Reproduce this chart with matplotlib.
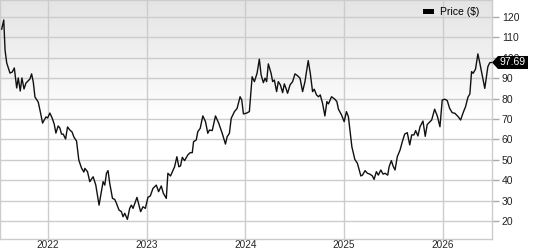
import matplotlib
matplotlib.use("Agg")
import matplotlib.pyplot as plt
import numpy as np
from matplotlib.patches import Patch, Polygon

# weekly-ish closing prices, x as decimal year
years = [
    2021.532, 2021.553, 2021.566, 2021.583, 2021.616, 2021.639, 2021.660, 2021.684,
    2021.700, 2021.720, 2021.737, 2021.758, 2021.778, 2021.818, 2021.835, 2021.852,
    2021.869, 2021.902, 2021.926, 2021.946, 2021.980, 2021.997, 2022.020, 2022.043,
    2022.064, 2022.081, 2022.104, 2022.121, 2022.138, 2022.155, 2022.179, 2022.199,
    2022.222, 2022.245, 2022.263, 2022.290, 2022.313, 2022.340, 2022.364, 2022.374,
    2022.401, 2022.424, 2022.458, 2022.485, 2022.518, 2022.542, 2022.559, 2022.576,
    2022.593, 2022.609, 2022.626, 2022.654, 2022.677, 2022.694, 2022.720, 2022.744,
    2022.761, 2022.778, 2022.805, 2022.828, 2022.845, 2022.862, 2022.902, 2022.939,
    2022.963, 2022.987, 2023.013, 2023.037, 2023.064, 2023.098, 2023.121, 2023.148,
    2023.169, 2023.199, 2023.215, 2023.242, 2023.276, 2023.283, 2023.306, 2023.326,
    2023.343, 2023.361, 2023.384, 2023.417, 2023.441, 2023.462, 2023.475, 2023.502,
    2023.518, 2023.542, 2023.569, 2023.596, 2023.619, 2023.636, 2023.664, 2023.697,
    2023.730, 2023.765, 2023.798, 2023.815, 2023.838, 2023.856, 2023.889, 2023.916,
    2023.946, 2023.963, 2023.980, 2024.007, 2024.040, 2024.068, 2024.091, 2024.118,
    2024.141, 2024.159, 2024.182, 2024.199, 2024.215, 2024.232, 2024.260, 2024.276,
    2024.293, 2024.316, 2024.333, 2024.354, 2024.377, 2024.394, 2024.411, 2024.427,
    2024.452, 2024.478, 2024.502, 2024.528, 2024.553, 2024.579, 2024.603, 2024.636,
    2024.657, 2024.680, 2024.697, 2024.720, 2024.740, 2024.758, 2024.781, 2024.805,
    2024.825, 2024.841, 2024.872, 2024.906, 2024.926, 2024.942, 2024.973, 2025.000,
    2025.023, 2025.043, 2025.078, 2025.108, 2025.134, 2025.169, 2025.185, 2025.212,
    2025.235, 2025.260, 2025.286, 2025.303, 2025.326, 2025.346, 2025.371, 2025.394,
    2025.414, 2025.441, 2025.455, 2025.478, 2025.495, 2025.515, 2025.538, 2025.566,
    2025.589, 2025.613, 2025.639, 2025.664, 2025.684, 2025.707, 2025.724, 2025.747,
    2025.768, 2025.798, 2025.821, 2025.841, 2025.886, 2025.916, 2025.943, 2025.970,
    2025.993, 2026.020, 2026.044, 2026.068, 2026.094, 2026.121, 2026.155, 2026.179,
    2026.205, 2026.229, 2026.253, 2026.273, 2026.290, 2026.306, 2026.330, 2026.354,
    2026.374, 2026.397, 2026.424, 2026.455, 2026.475, 2026.492,
]
prices = [
    114.0, 118.5, 103.8, 97.5, 92.5, 93.0, 95.0, 85.2,
    90.1, 83.7, 90.1, 84.7, 87.6, 89.6, 92.1, 88.1,
    80.8, 78.3, 72.9, 68.0, 71.0, 70.5, 72.9, 70.5,
    67.5, 63.1, 66.6, 65.6, 62.6, 62.6, 60.2, 66.1,
    64.6, 63.6, 61.2, 59.2, 49.9, 46.0, 44.0, 45.8,
    44.2, 39.3, 41.7, 37.6, 27.8, 34.4, 39.3, 37.6,
    43.4, 44.7, 38.5, 31.1, 30.6, 28.7, 25.4, 24.6,
    22.1, 23.8, 20.8, 26.2, 27.8, 26.2, 31.6, 24.6,
    27.0, 26.2, 31.6, 32.3, 36.0, 37.6, 34.4, 37.2,
    33.6, 31.1, 43.4, 42.1, 45.8, 46.6, 51.5, 46.6,
    47.0, 51.2, 49.6, 52.4, 53.5, 53.5, 58.9, 59.7,
    63.8, 65.4, 71.5, 68.7, 63.0, 64.6, 64.3, 71.5,
    67.9, 63.0, 57.7, 61.3, 63.0, 70.3, 73.6, 75.2,
    80.9, 79.3, 72.5, 72.8, 73.6, 90.7, 88.3, 92.4,
    99.3, 91.6, 87.8, 90.0, 88.3, 97.0, 92.4, 88.3,
    89.1, 83.4, 88.3, 86.7, 82.9, 87.2, 85.0, 82.6,
    86.7, 88.3, 92.1, 91.2, 90.0, 83.4, 88.3, 98.6,
    92.4, 83.4, 84.6, 81.8, 80.9, 81.8, 77.7, 71.5,
    78.5, 77.4, 80.9, 79.7, 78.5, 74.8, 72.0, 68.7,
    73.6, 71.1, 56.4, 50.2, 48.3, 42.1, 42.5, 44.7,
    43.4, 43.0, 42.1, 40.4, 44.2, 42.5, 45.0, 43.0,
    43.4, 42.5, 46.6, 49.6, 47.0, 45.0, 51.5, 54.8,
    58.9, 62.6, 63.3, 57.3, 62.2, 62.2, 64.3, 61.7,
    66.2, 69.0, 61.5, 67.3, 69.5, 74.8, 71.5, 66.2,
    79.3, 79.7, 79.0, 75.2, 73.1, 72.8, 71.1, 69.5,
    73.1, 76.0, 80.6, 82.3, 93.2, 92.4, 94.4, 101.9,
    97.3, 91.6, 85.0, 95.6, 97.6, 97.69,
]
year_ticks = [2022, 2023, 2024, 2025, 2026]
price_ticks = [20, 30, 40, 50, 60, 70, 80, 90, 100, 110, 120]
last_price = 97.69

plt.rcParams['font.family'] = ['Liberation Sans', 'DejaVu Sans']

W, H = 533, 250
fig = plt.figure(figsize=(W / 100, H / 100), dpi=100)
ax = fig.add_axes([0.0, 11 / H, 492 / W, 239 / H])

ax.set_xlim(2021.515, 2026.497)
ax.set_ylim(11.2, 128.3)

# grey at the top fading to white by mid-height
yfrac = np.linspace(0, 1, 256).reshape(-1, 1)
grad = np.clip((1 - yfrac) * 2.0, 0, 1)
cmap = matplotlib.colors.LinearSegmentedColormap.from_list("bg", ["#e4e4e4", "#ffffff"])
ax.imshow(grad, extent=[0, 1, 0, 1], transform=ax.transAxes, aspect='auto',
          cmap=cmap, vmin=0, vmax=1, zorder=0, origin='lower')

ax.plot(years, prices, color='#111111', lw=1.0, zorder=3)

ax.set_xticks(year_ticks)
ax.set_xticklabels([str(y) for y in year_ticks])
ax.set_yticks(price_ticks)
ax.yaxis.tick_right()
ax.grid(True, color='#cccccc', lw=1.0, zorder=1)
ax.set_axisbelow(True)
ax.tick_params(axis='x', length=0, pad=0.5, labelsize=7.2, colors='#222222')
ax.tick_params(axis='y', length=5, width=1, color='#aaaaaa', pad=2,
               labelsize=7.5, labelcolor='#222222')
for s in ax.spines.values():
    s.set_color('#cccccc')
    s.set_linewidth(1.0)

leg = ax.legend([Patch(facecolor='black')], ['Price ($)'], loc='upper right',
                bbox_to_anchor=(0.99, 1.0), frameon=False, fontsize=7.5,
                handlelength=1.1, handleheight=0.45, handletextpad=0.6,
                borderaxespad=0.3)

# last price tag
px, py = ax.transData.transform((ax.get_xlim()[1], last_price))
tag = Polygon([(px, py), (px + 6, py + 6.5), (px + 36, py + 6.5),
               (px + 36, py - 6.5), (px + 6, py - 6.5)], closed=True,
              transform=None, fc='black', ec='none', zorder=5)
fig.add_artist(tag)
fig.text((px + 21) / W, py / H, f"{last_price:.2f}", color='white',
         fontsize=7.5, ha='center', va='center', zorder=6)

fig.savefig("out.png", dpi=100)
